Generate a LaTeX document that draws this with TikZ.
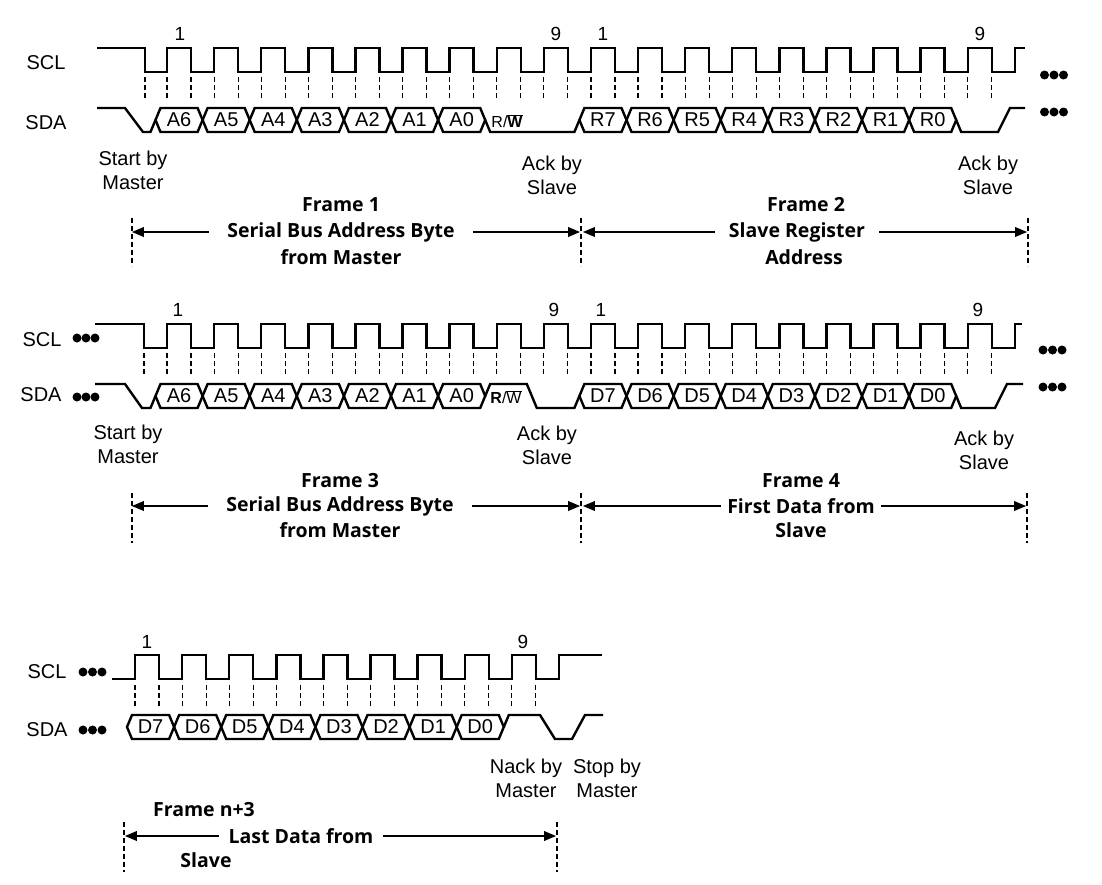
\documentclass[tikz,border=0pt]{standalone}
\usepackage{fontspec}
\setmainfont{Liberation Sans}
\newfontfamily\framefont{Open Sans}
\usetikzlibrary{arrows}
\tikzset{
every node/.style={inner sep=0pt, font=\fontsize{20}{24}\selectfont},
wave/.style={line width=2.4pt, line join=miter},
tick/.style={line width=1.2pt, dash pattern=on 5pt off 3pt},
numlabel/.style={font=\fontsize{19}{20}\selectfont},
rw/.style={font=\fontsize{16}{18}\selectfont},
note/.style={align=center},
framelbl/.style={font=\framefont\bfseries\fontsize{19.5}{25}\selectfont},
frarrow/.style={line width=1.8pt, -triangle 45}
}
% one hexagon per bit, cells 47.1 wide
\newcommand{\hexbits}[3]{%
  \foreach \bitname [count=\k from 0] in {#3} {
    \pgfmathsetmacro\xa{#1+\k*47.1}
    \pgfmathsetmacro\xb{\xa+47.1}
    \pgfmathsetmacro\xm{\xa+23.55}
    \draw[wave] (\xa,120) -- ({\xa+5},108) -- ({\xb-5},108) -- (\xb,120) -- ({\xb-5},132) -- ({\xa+5},132) -- cycle;
    \node (#2\bitname) at (\xm,120) {\bitname};
  }
}
\begin{document}
\begin{tikzpicture}[x=1pt, y=-1pt]
\useasboundingbox (0,0) rectangle (1102,884);

% ---------- frames 1 and 2 ----------
\node (scl1) at (46,63) {SCL};
\node (sda1) at (46,123) {SDA};
\draw[wave] (97,48) -- (145,48) -- (145,72)
  foreach \n in {0,...,17} { -- ({167+\n*47.1},72) -- ++(0,-24) -- ++(24,0) -- ++(0,24) }
  -- (1014.8,72) -- (1014.8,48) -- (1025,48);
\draw[tick] (145,77) -- (145,100);
\foreach \n in {0,...,17} {
  \draw[tick] ({167+\n*47.1},77) -- ++(0,23);
  \draw[tick] ({191+\n*47.1},77) -- ++(0,23);
}
\draw[wave] (97,108) -- (125,108) -- (143,132) -- (150.5,132) -- (155.5,120);
\hexbits{155.5}{r1}{A6,A5,A4,A3,A2,A1,A0}
\draw[wave] (485.2,120) -- (490.2,132) -- (574.4,132) -- (579.4,120);
\node[rw] (rw1) at (507,121) {R/$\overline{\mbox{\textbf{W}}}$};
\hexbits{579.4}{r1}{R7,R6,R5,R4,R3,R2,R1,R0}
\draw[wave] (956.2,120) -- (961.2,132) -- (998,132) -- (1010,108) -- (1025,108);
\foreach \x in {1044.5,1054,1063.5} {
  \fill (\x,75) circle[radius=4.5pt];
  \fill (\x,112) circle[radius=4.5pt];
}
\node[numlabel] (one1) at (180,34) {1};
\node[numlabel] (nine1) at (556,34) {9};
\node[numlabel] (one2) at (603,34) {1};
\node[numlabel] (nine2) at (980,34) {9};
\node[note] (start1) at (133,170) {Start by\\Master};
\node[note] (ack1) at (552,175) {Ack by\\Slave};
\node[note] (ack2) at (988,175) {Ack by\\Slave};

\draw[tick] (132,218) -- (132,266);
\draw[tick] (581,218) -- (581,266);
\draw[tick] (1028,218) -- (1028,266);
\coordinate (f1l) at (132,232);
\coordinate (f1r) at (580,232);
\coordinate (f2l) at (583,232);
\coordinate (f2r) at (1027,232);
\node[framelbl] (f1top) at (341,205) {Frame 1};
\node[framelbl, inner xsep=18pt] (f1mid) at (341,232) {Serial Bus Address Byte};
\node[framelbl] (f1bot) at (341,257) {from Master};
\draw[frarrow] (f1mid.west) -- (f1l);
\draw[frarrow] (f1mid.east) -- (f1r);
\node[framelbl] (f2top) at (806,205) {Frame 2};
\node[framelbl, inner xsep=14pt] (f2mid) at (797,232) {Slave Register};
\node[framelbl] (f2bot) at (804,257) {Address};
\draw[frarrow] (f2mid.west) -- (f2l);
\draw[frarrow] (f2mid.east) -- (f2r);

% ---------- frames 3 and 4 ----------
\begin{scope}[yshift=-276pt]
\node (scl3) at (42,64) {SCL};
\node (sda3) at (41,119) {SDA};
\foreach \x in {77,86,95} {
  \fill (\x,62) circle[radius=4.5pt];
  \fill (\x,121) circle[radius=4.5pt];
}
\draw[wave] (95,48) -- (144,48) -- (144,72)
  foreach \n in {0,...,17} { -- ({167+\n*47.1},72) -- ++(0,-24) -- ++(24,0) -- ++(0,24) }
  -- (1014.8,72) -- (1014.8,48) -- (1022,48);
\draw[tick] (144,77) -- (144,100);
\foreach \n in {0,...,17} {
  \draw[tick] ({167+\n*47.1},77) -- ++(0,23);
  \draw[tick] ({191+\n*47.1},77) -- ++(0,23);
}
\draw[wave] (95,108) -- (125,108) -- (142,132) -- (150.5,132) -- (155.5,120);
\hexbits{155.5}{r2}{A6,A5,A4,A3,A2,A1,A0}
\draw[wave] (485.2,120) -- (490.2,108) -- (526.8,108) -- (536.8,132) -- (574.4,132) -- (579.4,120);
\node[rw] (rw2) at (506,121) {\textbf{R}/$\overline{\mbox{W}}$};
\hexbits{579.4}{r2}{D7,D6,D5,D4,D3,D2,D1,D0}
\draw[wave] (956.2,120) -- (961.2,132) -- (995,132) -- (1007,108) -- (1023,108);
\foreach \x in {1043,1052.5,1062} {
  \fill (\x,74) circle[radius=4.5pt];
  \fill (\x,111) circle[radius=4.5pt];
}
\node[numlabel] (one3) at (178,34) {1};
\node[numlabel] (nine3) at (554,34) {9};
\node[numlabel] (one4) at (601,34) {1};
\node[numlabel] (nine4) at (978,34) {9};
\node[note] (start3) at (128,168) {Start by\\Master};
\node[note] (ack3) at (547,169) {Ack by\\Slave};
\node[note] (ack4) at (984,174) {Ack by\\Slave};

\draw[tick] (132,217) -- (132,267);
\draw[tick] (581,217) -- (581,267);
\draw[tick] (1027,217) -- (1027,267);
\coordinate (f3l) at (132,230);
\coordinate (f3r) at (580,230);
\coordinate (f4l) at (583,230);
\coordinate (f4r) at (1026,230);
\node[framelbl] (f3top) at (340,205) {Frame 3};
\node[framelbl, inner xsep=18pt] (f3mid) at (340,230) {Serial Bus Address Byte};
\node[framelbl] (f3bot) at (340,254) {from Master};
\draw[frarrow] (f3mid.west) -- (f3l);
\draw[frarrow] (f3mid.east) -- (f3r);
\node[framelbl] (f4top) at (801,205) {Frame 4};
\node[framelbl, inner xsep=6pt] (f4mid) at (801,230) {First Data from};
\node[framelbl] (f4bot) at (801,254) {Slave};
\draw[frarrow] (f4mid.west) -- (f4l);
\draw[frarrow] (f4mid.east) -- (f4r);
\end{scope}

% ---------- frame n+3 ----------
\begin{scope}[yshift=-607pt]
\node (scl5) at (47,65) {SCL};
\node (sda5) at (47,123) {SDA};
\foreach \x in {83,92.5,102} {
  \fill (\x,65) circle[radius=4.5pt];
  \fill (\x,123) circle[radius=4.5pt];
}
\draw[wave] (112,72)
  foreach \n in {0,...,8} { -- ({135+\n*47.1},72) -- ++(0,-24) -- ++(24,0) -- ++(0,24) }
  -- (558.9,72) -- (558.9,48) -- (602,48);
\foreach \n in {0,...,8} {
  \draw[tick] ({135+\n*47.1},78) -- ++(0,23);
  \draw[tick] ({159+\n*47.1},78) -- ++(0,23);
}
\hexbits{127}{r3}{D7,D6,D5,D4,D3,D2,D1,D0}
\draw[wave] (503.8,120) -- (508.8,108) -- (540,108) -- (555,132) -- (572,132) -- (585,108) -- (603,108);
\node[numlabel] (one5) at (147,35) {1};
\node[numlabel] (nine5) at (523,35) {9};
\node[note] (nack5) at (526,171) {Nack by\\Master};
\node[note] (stop5) at (607,171) {Stop by\\Master};

\draw[tick] (124,215) -- (124,265);
\draw[tick] (557,215) -- (557,265);
\coordinate (f5l) at (125,229);
\coordinate (f5r) at (556,229);
\node[framelbl] (f5top) at (204,203) {Frame n+3};
\node[framelbl, inner xsep=9pt] (f5mid) at (301,229) {Last Data from};
\node[framelbl] (f5bot) at (206,253) {Slave};
\draw[frarrow] (f5mid.west) -- (f5l);
\draw[frarrow] (f5mid.east) -- (f5r);
\end{scope}
\end{tikzpicture}
\end{document}
